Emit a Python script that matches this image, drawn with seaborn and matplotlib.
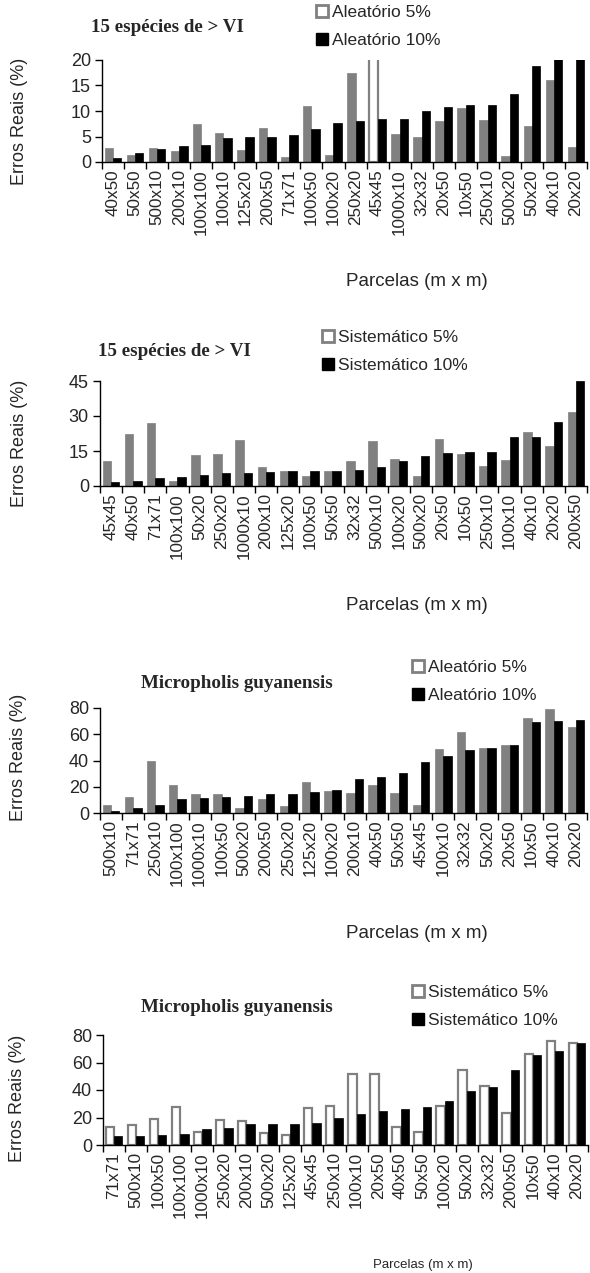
import numpy as np
import pandas as pd
import seaborn as sns
import matplotlib.pyplot as plt
from matplotlib.patches import Patch

# painel 1 - 15 especies, aleatorio
cats1 = ["40x50", "50x50", "500x10", "200x10", "100x100", "100x10", "125x20", "200x50",
         "71x71", "100x50", "100x20", "250x20", "45x45", "1000x10", "32x32", "20x50",
         "10x50", "250x10", "500x20", "50x20", "40x10", "20x20"]
ale5_1 = [2.7, 1.4, 2.7, 2.1, 7.5, 5.7, 2.3, 6.7, 1.0, 10.9, 1.4, 17.5, 30.0, 5.5, 4.9, 8.1,
          10.5, 8.3, 1.2, 7.1, 16.0, 3.0]
ale10_1 = [0.8, 1.7, 2.6, 3.1, 3.4, 4.8, 5.0, 5.0, 5.3, 6.4, 7.6, 8.1, 8.4, 8.4, 10.0, 10.7,
           11.2, 11.2, 13.3, 18.9, 21.0, 22.0]

# painel 2 - 15 especies, sistematico
cats2 = ["45x45", "40x50", "71x71", "100x100", "50x20", "250x20", "1000x10", "200x10",
         "125x20", "100x50", "50x50", "32x32", "500x10", "100x20", "500x20", "20x50",
         "10x50", "250x10", "100x10", "40x10", "20x20", "200x50"]
sis5_2 = [10.9, 22.1, 26.8, 2.1, 13.5, 13.9, 19.9, 8.2, 6.3, 4.3, 6.6, 10.7, 19.5, 11.5,
          4.3, 20.1, 13.6, 8.7, 11.2, 23.2, 17.0, 31.7]
sis10_2 = [1.9, 2.1, 3.6, 3.9, 4.6, 5.6, 5.6, 6.2, 6.3, 6.6, 6.6, 6.9, 8.0, 10.9, 12.8,
           14.3, 14.5, 14.5, 21.1, 21.1, 27.5, 45.0]

# painel 3 - Micropholis, aleatorio
cats3 = ["500x10", "71x71", "250x10", "100x100", "1000x10", "100x50", "500x20", "200x50",
         "250x20", "125x20", "100x20", "200x10", "40x50", "50x50", "45x45", "100x10",
         "32x32", "50x20", "20x50", "10x50", "40x10", "20x20"]
ale5_3 = [6.1, 11.9, 39.6, 21.3, 14.2, 14.2, 3.6, 10.9, 5.1, 23.9, 16.8, 15.5, 21.3, 15.5,
          6.3, 48.5, 61.9, 49.5, 51.8, 72.1, 79.4, 65.7]
ale10_3 = [1.8, 3.8, 6.3, 10.9, 11.4, 11.9, 12.9, 14.2, 14.7, 16.2, 17.3, 26.1, 27.2, 30.7,
           38.6, 43.4, 48.0, 49.7, 52.0, 69.0, 69.8, 70.8]

# painel 4 - Micropholis, sistematico
cats4 = ["71x71", "500x10", "100x50", "100x100", "1000x10", "250x20", "200x10", "500x20",
         "125x20", "45x45", "250x10", "100x10", "20x50", "40x50", "50x50", "100x20",
         "50x20", "32x32", "200x50", "10x50", "40x10", "20x20"]
sis5_4 = [13.0, 14.3, 18.8, 28.0, 9.2, 18.1, 17.1, 8.5, 7.5, 27.1, 28.7, 51.9, 51.9, 13.0,
          9.4, 28.5, 54.6, 43.0, 23.0, 66.0, 75.8, 74.2]
sis10_4 = [6.5, 6.5, 7.0, 7.7, 11.4, 12.1, 15.2, 15.0, 15.2, 15.9, 19.8, 22.7, 24.4, 26.1,
           27.3, 31.9, 39.4, 42.0, 54.3, 65.5, 68.4, 74.4]

GRAY = "#808080"
W, H = 590, 1273

sns.set_style("white")
plt.rcParams['font.family'] = ['Liberation Sans', 'DejaVu Sans']

fig = plt.figure(figsize=(W / 100, H / 100), dpi=100)


def px_axes(left, right, top, bottom):
    return fig.add_axes([left / W, 1 - bottom / H, (right - left) / W, (bottom - top) / H])


def painel(box, cats, v5, v10, labels, ymax, step, title, title_xy, leg_xy, ylab_xy,
           xlab_xy, xlab_size=13.5, hollow=False):
    ax = px_axes(*box)
    df = pd.DataFrame({
        "parcela": cats * 2,
        "erro": list(v5) + list(v10),
        "serie": [labels[0]] * len(cats) + [labels[1]] * len(cats),
    })
    sns.barplot(data=df, x="parcela", y="erro", hue="serie", order=cats,
                hue_order=labels, palette=[GRAY, "black"], saturation=1,
                width=0.76, legend=False, ax=ax)
    for bar in ax.containers[1]:
        bar.set_edgecolor("black")
        bar.set_linewidth(0.5)
    for bar in ax.containers[0]:
        if hollow:
            bar.set_facecolor("white")
            bar.set_edgecolor(GRAY)
            bar.set_linewidth(1.6)
        else:
            bar.set_edgecolor(GRAY)
            bar.set_linewidth(0.5)

    n = len(cats)
    ax.set_xlim(-0.5, n - 0.5)
    ax.set_ylim(0, ymax)
    ax.set_yticks(np.arange(0, ymax + 0.1, step))
    ax.set_xticks(np.arange(-0.5, n, 1.0), minor=True)
    ax.tick_params(axis="x", which="major", length=0, pad=5, labelsize=12.3,
                   labelrotation=90)
    ax.tick_params(axis="x", which="minor", length=5, width=1, color="black",
                   direction="out", bottom=True)
    ax.tick_params(axis="y", length=5, width=1, color="black", direction="out",
                   left=True, labelsize=13, pad=3)
    ax.set_xlabel("")
    ax.set_ylabel("")
    sns.despine(ax=ax)
    for s in ("left", "bottom"):
        ax.spines[s].set_color("black")
        ax.spines[s].set_linewidth(1)

    fig.text(title_xy[0] / W, 1 - title_xy[1] / H, title, ha="center", va="center",
             fontsize=13.7, fontweight="bold", family=["Liberation Serif", "DejaVu Serif"])
    fig.text(ylab_xy[0] / W, 1 - ylab_xy[1] / H, "Erros Reais (%)", rotation=90,
             ha="center", va="center", fontsize=13)
    fig.text(xlab_xy[0] / W, 1 - xlab_xy[1] / H, "Parcelas (m x m)", ha="center",
             va="center", fontsize=xlab_size)

    handles = [Patch(facecolor="white", edgecolor=GRAY, linewidth=2, label=labels[0]),
               Patch(facecolor="black", edgecolor="black", label=labels[1])]
    fig.legend(handles=handles, loc="upper left",
               bbox_to_anchor=(leg_xy[0] / W, 1 - leg_xy[1] / H), frameon=False,
               fontsize=12.5, handlelength=0.7, handleheight=0.7, handletextpad=0.2,
               labelspacing=0.75, borderpad=0, borderaxespad=0)
    return ax


ax1 = painel((102, 587, 60, 162), cats1, ale5_1, ale10_1,
             ["Aleatório 5%", "Aleatório 10%"], 20, 5, "15 espécies de > VI",
             (167, 27), (316, 5), (20, 121), (417, 281))
# barra 45x45 fora da escala aparece vazada
bar45 = ax1.containers[0][cats1.index("45x45")]
bar45.set_facecolor("white")
bar45.set_linewidth(1.6)

painel((100, 587, 381, 486), cats2, sis5_2, sis10_2,
       ["Sistemático 5%", "Sistemático 10%"], 45, 15, "15 espécies de > VI",
       (174, 352), (322, 330), (20, 443), (417, 605))

painel((100, 587, 708, 813), cats3, ale5_3, ale10_3,
       ["Aleatório 5%", "Aleatório 10%"], 80, 20, "Micropholis guyanensis",
       (237, 683), (412, 660), (19, 757), (417, 933))

painel((103, 588, 1035, 1145), cats4, sis5_4, sis10_4,
       ["Sistemático 5%", "Sistemático 10%"], 80, 20, "Micropholis guyanensis",
       (237, 1008), (412, 985), (18, 1098), (423, 1265), xlab_size=9.5, hollow=True)

fig.savefig("out.png", dpi=100)
